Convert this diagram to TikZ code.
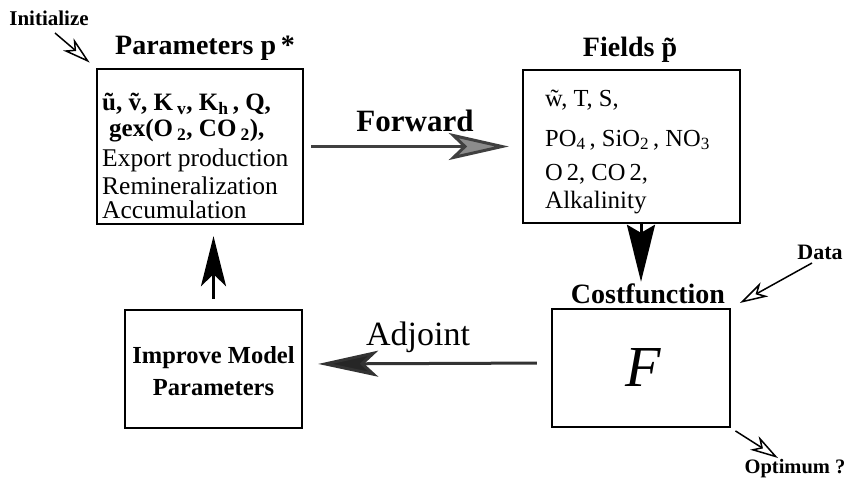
\documentclass[tikz,border=0pt]{standalone}
\usepackage{fontspec}
\setmainfont{Liberation Serif}
\usetikzlibrary{arrows.meta}
\newcommand{\fsz}[1]{\fontsize{#1}{#1}\selectfont}
\begin{document}
\begin{tikzpicture}[x=1pt,y=-1pt,
  box/.style={draw, line width=2.4pt, inner sep=0pt},
  txt/.style={inner sep=0pt, anchor=west},
  title/.style={inner sep=0pt, font=\bfseries\fsz{28}},
  bigarrow/.style={line width=3pt},
  openarrow/.style={line width=1.5pt, -{Stealth[open, length=28pt, width=16pt, inset=8pt, line width=1.5pt]}},
  small/.style={inner sep=0pt, font=\bfseries\fsz{21}}
]
\useasboundingbox (0,0) rectangle (846,483);

% boxes
\node[box, minimum width=206pt, minimum height=155pt] (params) at (200,146.5) {};
\node[box, minimum width=217pt, minimum height=153pt] (fields) at (631.5,146.5) {};
\node[box, minimum width=177pt, minimum height=118pt] (improve) at (213.5,369) {};
\node[box, minimum width=178pt, minimum height=118pt] (cost) at (641,368) {};

% titles
\node[title] (ptitle) at (205,48) {Parameters p\,*};
\node[title] (ftitle) at (630,50) {Fields \~{p}};
\node[title] (ctitle) at (648,294) {Costfunction};

% parameters content
\node[txt, font=\bfseries\fsz{25}] (p1) at (102,104) {\~{u}, \~{v}, K\,\textsubscript{v}, K\textsubscript{h}\,, Q,};
\node[txt, font=\bfseries\fsz{25}] (p2) at (109,131) {gex(O\,\textsubscript{2}, CO\,\textsubscript{2}),};
\node[txt, font=\fsz{25.5}] (p3) at (102,160) {Export production};
\node[txt, font=\fsz{25.5}] (p4) at (102,186) {Remineralization};
\node[txt, font=\fsz{25.5}] (p5) at (102,210) {Accumulation};

% fields content
\node[txt, font=\fsz{24.5}] (f1) at (545,100) {\~{w}, T, S,};
\node[txt, font=\fsz{24.5}] (f2) at (545,140) {PO\textsubscript{4}\,, SiO\textsubscript{2}\,, NO\textsubscript{3}};
\node[txt, font=\fsz{24.5}] (f3) at (545,174) {O\,2, CO\,2,};
\node[txt, font=\fsz{25}] (f4) at (545,203) {Alkalinity};

% improve content
\node[inner sep=0pt, align=center, font=\bfseries\fontsize{24.5}{32}\selectfont] (imptext) at (213.5,371) {Improve Model\\Parameters};

% cost content
\node[inner sep=0pt, font=\itshape\fsz{58}] (ftext) at (643,368) {F};

% big arrows
\draw[bigarrow, black!75, -{Stealth[length=60pt, width=27pt, inset=14pt, fill=black!45]}, shorten <=7pt, shorten >=13pt] (params.east) -- (fields.west);
\node[inner sep=0pt, font=\bfseries\fsz{31}] (fwd) at (415,121) {Forward};

\draw[bigarrow, black!80, -{Stealth[length=60pt, width=26pt, inset=14pt, fill=black!85]}, shorten <=14pt, shorten >=15pt] ([yshift=5pt]cost.west) -- ([yshift=5pt]improve.east);
\node[inner sep=0pt, font=\fsz{34}] (adj) at (418,337) {Adjoint};

\draw[bigarrow, black, -{Stealth[length=50pt, width=25pt, inset=12pt]}, shorten <=10pt, shorten >=11pt] (improve.north) -- (improve.north |- params.south);

\draw[bigarrow, black, -{Stealth[length=57pt, width=28pt, inset=8pt]}, shorten >=26pt] (cost.north |- fields.south) -- (cost.north);

% open arrows
\coordinate (initS) at (55,33);
\node[small] (init) at (49,18) {Initialize};
\draw[openarrow, shorten >=8pt] (initS) -- (params.north west);

\coordinate (dataS) at (812,263);
\node[small, font=\bfseries\fsz{22}] (data) at (820,252) {Data};
\draw[openarrow, shorten >=10pt] (dataS) -- (cost.north east);

\coordinate (optE) at (778,458);
\node[small, font=\bfseries\fsz{20.5}] (opt) at (795,469) {Optimum ?};
\draw[openarrow, shorten <=5pt] (cost.south east) -- (optE);
\end{tikzpicture}
\end{document}
